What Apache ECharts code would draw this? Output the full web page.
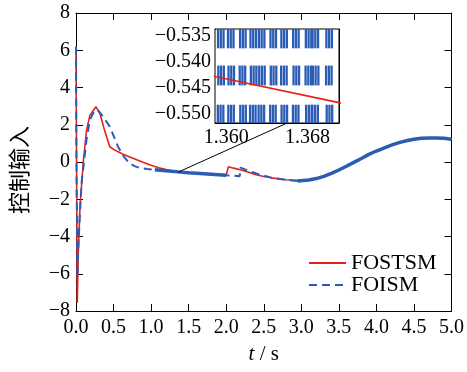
<!DOCTYPE html>
<html><head><meta charset="utf-8">
<script src="https://cdn.jsdelivr.net/npm/echarts@6/dist/echarts.min.js"></script>
<style>html,body{margin:0;padding:0;background:#fff}#c{width:467px;height:372px}</style>
</head><body><div id="c"></div>
<script>
// ---- data ----
const redT = [0, 0.017, 0.03, 0.053, 0.097, 0.14, 0.185, 0.265, 0.32, 0.38, 0.45, 0.5, 0.6, 0.7, 0.8, 0.9, 1.0, 1.1, 1.2, 1.3, 1.3589, 1.3711, 1.5, 1.7, 1.9, 2.0, 2.015, 2.03, 2.1, 2.2, 2.3, 2.4, 2.5, 2.6, 2.7, 2.8, 2.9, 3.0, 3.1, 3.2, 3.3, 3.4, 3.5, 3.6, 3.7, 3.8, 3.9, 4.0, 4.1, 4.2, 4.3, 4.4, 4.5, 4.6, 4.7, 4.8, 4.9, 5.0];
const redV = [5.8, -7.55, -4.9, -2.4, 0.0, 1.7, 2.5, 2.97, 2.6, 1.7, 0.82, 0.68, 0.47, 0.3, 0.13, -0.03, -0.18, -0.31, -0.41, -0.5, -0.5428, -0.5478, -0.59, -0.64, -0.68, -0.70, -0.71, -0.25, -0.33, -0.43, -0.55, -0.68, -0.78, -0.85, -0.9, -0.95, -0.98, -0.98, -0.95, -0.88, -0.76, -0.6, -0.42, -0.22, 0.0, 0.2, 0.42, 0.6, 0.76, 0.92, 1.05, 1.15, 1.23, 1.28, 1.3, 1.3, 1.28, 1.22];
const blueT = [0, 0.006, 0.02, 0.03, 0.053, 0.075, 0.106, 0.14, 0.185, 0.25, 0.3, 0.36, 0.45, 0.56, 0.63, 0.71, 0.78, 0.85, 0.95, 1.05, 1.2, 1.36, 1.5, 1.7, 1.9, 2.0, 2.1, 2.18, 2.19, 2.25, 2.4, 2.6, 2.8, 2.95, 3.1, 3.2, 3.3, 3.4, 3.5, 3.6, 3.7, 3.8, 3.9, 4.0, 4.1, 4.2, 4.3, 4.4, 4.5, 4.6, 4.7, 4.8, 4.9, 5.0];
const blueV = [6.2, 0.0, -6.2, -4.7, -2.7, -1.1, 0.0, 1.2, 2.25, 2.8, 2.75, 2.43, 1.9, 0.82, 0.33, -0.07, -0.22, -0.32, -0.38, -0.42, -0.47, -0.53, -0.58, -0.63, -0.68, -0.71, -0.73, -0.76, -0.3, -0.4, -0.62, -0.84, -0.97, -1.02, -0.97, -0.89, -0.77, -0.61, -0.43, -0.23, -0.02, 0.19, 0.41, 0.59, 0.75, 0.91, 1.04, 1.14, 1.22, 1.27, 1.29, 1.29, 1.27, 1.22];
const chatterRanges = [[1.0, 2.0], [2.95, 5.0]];
const xTickStep = 0.5, yTickStep = 2;
const insetXTicks = [1.360, 1.368];
const insetYTicks = [-0.535, -0.540, -0.545, -0.550];
const insetXRange = [1.3589, 1.3711];
const insetYRange = [-0.5517, -0.5337];
const bandTop = [-0.5337, -0.5407, -0.5482];
const bandBot = [-0.5374, -0.5445, -0.5517];
const bandCenters = [
  [1.35947, 1.36045, 1.36164, 1.36266, 1.36349, 1.36463, 1.36570, 1.36686, 1.36811, 1.36877, 1.37013],
  [1.35950, 1.36050, 1.36160, 1.36270, 1.36352, 1.36466, 1.36568, 1.36690, 1.36808, 1.36880, 1.37010],
  [1.35945, 1.36048, 1.36166, 1.36262, 1.36346, 1.36460, 1.36572, 1.36684, 1.36814, 1.36875, 1.37016]
];
const barOffsets = [-0.00027, 0, 0.00027];
const connectFrom = [1.36, -0.545];
const connectTo = [1.366, -0.5517];

// ---- build ----
const RED = '#e8201c', BLUE = '#2a5cb5';
const FONT = 'Liberation Serif';
const zip = (a, b) => a.map((v, i) => [v, b[i]]);
const redData = zip(redT, redV);
const blueData = zip(blueT, blueV);
const chatterData = blueData.map(p => chatterRanges.some(r => p[0] >= r[0] && p[0] <= r[1]) ? p : [p[0], null]);
const insetBars = [];
bandCenters.forEach((cs, b) => cs.forEach(c => barOffsets.forEach(o => insetBars.push([c + o, bandTop[b], bandBot[b]]))));

const fmtY = v => v < 0 ? '\u2212' + (-v) : '' + v;
const tickCommon = {inside: true, length: 7, lineStyle: {color: '#000', width: 1}};
const lineCommon = {show: true, onZero: false, lineStyle: {color: '#000', width: 1}};
const lblCommon = {fontFamily: FONT, fontSize: 20, color: '#000'};

const chart = echarts.init(document.getElementById('c'), null, {renderer: 'canvas'});
chart.setOption({
  animation: false,
  backgroundColor: '#fff',
  grid: [
    {left: 76, top: 13, right: 13, bottom: 61},
    {left: 215, top: 29, width: 124, height: 94, show: true, backgroundColor: '#fff', borderColor: '#000', borderWidth: 1, z: 5}
  ],
  legend: {
    data: ['FOSTSM', 'FOISM'], orient: 'vertical', left: 303, top: 247,
    itemWidth: 37, itemHeight: 12, itemGap: 0,
    itemStyle: {opacity: 0, borderWidth: 0},
    textStyle: {fontFamily: FONT, fontSize: 22, color: '#000', lineHeight: 20}
  },
  xAxis: [
    {type: 'value', gridIndex: 0, min: 0, max: 5, interval: xTickStep, axisLine: lineCommon, axisTick: tickCommon,
     axisLabel: Object.assign({margin: 7, formatter: v => v.toFixed(1)}, lblCommon), splitLine: {show: false},
     name: '{i|t} / s', nameLocation: 'middle', nameGap: 33,
     nameTextStyle: {fontFamily: FONT, fontSize: 21, color: '#000', rich: {i: {fontFamily: FONT, fontSize: 21, fontStyle: 'italic', color: '#000'}}}},
    {type: 'value', gridIndex: 0, position: 'top', min: 0, max: 5, interval: xTickStep, axisLine: lineCommon, axisTick: tickCommon,
     axisLabel: {show: false}, splitLine: {show: false}},
    {type: 'value', gridIndex: 1, min: insetXRange[0], max: insetXRange[1], axisLine: lineCommon,
     axisTick: Object.assign({customValues: insetXTicks}, tickCommon, {length: 5}),
     axisLabel: Object.assign({customValues: insetXTicks, margin: 5, formatter: v => v.toFixed(3)}, lblCommon), splitLine: {show: false}},
    {type: 'value', gridIndex: 1, position: 'top', min: insetXRange[0], max: insetXRange[1], axisLine: lineCommon,
     axisTick: {show: false}, axisLabel: {show: false}, splitLine: {show: false}}
  ],
  yAxis: [
    {type: 'value', gridIndex: 0, min: -8, max: 8, interval: yTickStep, axisLine: lineCommon, axisTick: tickCommon,
     axisLabel: Object.assign({margin: 6, formatter: fmtY}, lblCommon), splitLine: {show: false},
     name: '控制输入', nameLocation: 'middle', nameGap: 46, nameRotate: 90,
     nameTextStyle: {fontFamily: 'Noto Sans CJK SC', fontSize: 22, color: '#000', padding: [0, 16, 0, 0]}},
    {type: 'value', gridIndex: 0, position: 'right', min: -8, max: 8, interval: yTickStep, axisLine: lineCommon, axisTick: tickCommon,
     axisLabel: {show: false}, splitLine: {show: false}},
    {type: 'value', gridIndex: 1, min: insetYRange[0], max: insetYRange[1], axisLine: lineCommon,
     axisTick: Object.assign({customValues: insetYTicks}, tickCommon, {length: 5}),
     axisLabel: Object.assign({customValues: insetYTicks, margin: 4, formatter: v => '\u2212' + (-v).toFixed(3)}, lblCommon), splitLine: {show: false}},
    {type: 'value', gridIndex: 1, position: 'right', min: insetYRange[0], max: insetYRange[1], axisLine: lineCommon,
     axisTick: Object.assign({customValues: insetYTicks}, tickCommon, {length: 5}), axisLabel: {show: false}, splitLine: {show: false}}
  ],
  series: [
    {name: 'FOSTSM', type: 'line', xAxisIndex: 0, yAxisIndex: 0, data: redData, symbol: 'none', showSymbol: false,
     lineStyle: {color: RED, width: 1.6}, itemStyle: {color: RED}, z: 2},
    {name: 'FOISM', type: 'line', xAxisIndex: 0, yAxisIndex: 0, data: blueData, symbol: 'none', showSymbol: false,
     lineStyle: {color: BLUE, width: 2, type: [8, 5]}, itemStyle: {color: BLUE}, z: 3},
    {name: 'FOISM-chatter', type: 'line', xAxisIndex: 0, yAxisIndex: 0, data: chatterData, symbol: 'none', showSymbol: false,
     connectNulls: false, lineStyle: {color: BLUE, width: 3.5}, itemStyle: {color: BLUE}, z: 3},
    {name: 'inset-blue', type: 'custom', xAxisIndex: 2, yAxisIndex: 2, data: insetBars, clip: true, z: 6,
     renderItem: (params, api) => {
       const p1 = api.coord([api.value(0), api.value(1)]);
       const p2 = api.coord([api.value(0), api.value(2)]);
       return {type: 'line', shape: {x1: p1[0], y1: p1[1], x2: p2[0], y2: p2[1]}, style: {stroke: BLUE, lineWidth: 2.3}};
     }},
    {name: 'inset-red', type: 'line', xAxisIndex: 2, yAxisIndex: 2, data: redData, symbol: 'none', showSymbol: false,
     clip: true, lineStyle: {color: RED, width: 1.6}, z: 7}
  ]
});
const a = chart.convertToPixel({xAxisIndex: 0, yAxisIndex: 0}, connectFrom);
const b = chart.convertToPixel({xAxisIndex: 2, yAxisIndex: 2}, connectTo);
chart.setOption({graphic: [{type: 'line', shape: {x1: a[0], y1: a[1], x2: b[0], y2: b[1]}, style: {stroke: '#000', lineWidth: 1}, z: 4}]});
</script></body></html>
